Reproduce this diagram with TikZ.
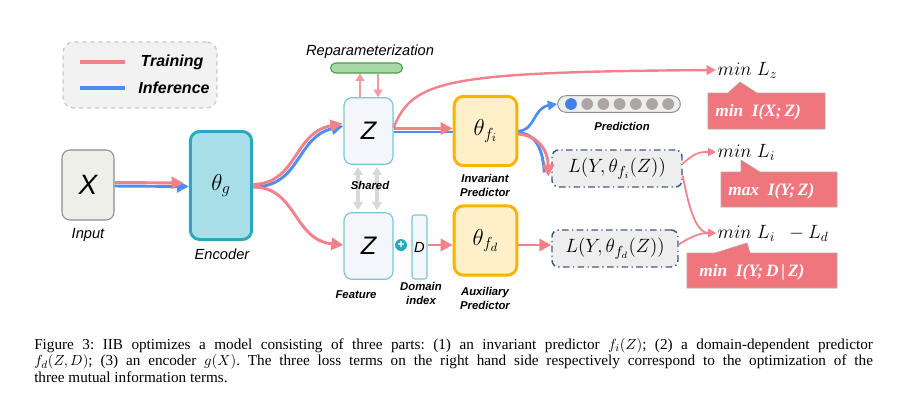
\documentclass[tikz,border=0pt]{standalone}
\usepackage{fontspec}
\setmainfont{Liberation Serif}
\setsansfont{Liberation Sans}
\usetikzlibrary{arrows.meta}
\definecolor{redc}{HTML}{F4808A}
\definecolor{bluec}{HTML}{4D8EF0}
\definecolor{legfill}{HTML}{F2F2F2}
\definecolor{legdraw}{HTML}{C8C8C8}
\definecolor{inpfill}{HTML}{EFEFE9}
\definecolor{inpdraw}{HTML}{8C8C8C}
\definecolor{encfill}{HTML}{A8DEE6}
\definecolor{encdraw}{HTML}{2BA9BC}
\definecolor{zfill}{HTML}{F4F6FB}
\definecolor{zdraw}{HTML}{79C6D6}
\definecolor{prfill}{HTML}{FFF0C9}
\definecolor{prdraw}{HTML}{F8B400}
\definecolor{grfill}{HTML}{A8D8A8}
\definecolor{grdraw}{HTML}{47A047}
\definecolor{lfill}{HTML}{EEEEEE}
\definecolor{ldraw}{HTML}{3B5A8E}
\definecolor{rbox}{HTML}{F0767E}
\definecolor{rboxdraw}{HTML}{B8A4A6}
\definecolor{graya}{HTML}{D8D8D8}
\definecolor{dotgray}{HTML}{ABA6A6}
\definecolor{dotblue}{HTML}{3F7FEF}
\definecolor{pinkthin}{HTML}{F49AA2}
\tikzset{
  rl/.style={draw=redc, line width=2.2pt},
  bl/.style={draw=bluec, line width=2.2pt},
  rthin/.style={draw=redc, line width=1.3pt},
  bigtip/.style={-{Triangle[length=9pt,width=9pt]}},
  midtip/.style={-{Triangle[length=7pt,width=7pt]}},
  smalltip/.style={-{Triangle[length=6pt,width=6pt]}},
  lab/.style={font=\sffamily\itshape\fontsize{11}{13}\selectfont, inner sep=0pt},
  blab/.style={font=\sffamily\bfseries\itshape\fontsize{8.5}{10.5}\selectfont, align=center, inner sep=0pt},
  zbox/.style={draw=zdraw, fill=zfill, rounded corners=6pt, line width=0.9pt,
    minimum width=36.75pt, minimum height=50pt, font=\sffamily\itshape\fontsize{19}{22}\selectfont},
  predbox/.style={draw=prdraw, fill=prfill, rounded corners=7pt, line width=2.2pt,
    minimum width=47pt, minimum height=52pt, font=\fontsize{18}{20}\selectfont},
  lbox/.style={draw=ldraw, fill=lfill, rounded corners=5pt, line width=1.1pt,
    dash pattern=on 5pt off 2.5pt on 1pt off 2.5pt, minimum height=27.75pt, inner sep=2pt,
    font=\fontsize{15}{17}\selectfont},
  mintext/.style={font=\fontsize{14.5}{16}\selectfont, inner sep=1pt, anchor=west},
  rtext/.style={font=\bfseries\itshape\fontsize{13}{15}\selectfont, text=white, inner sep=0pt, anchor=west},
  rshape/.style={fill=rbox, draw=rboxdraw, line width=0.5pt},
  grayarr/.style={draw=graya, line width=2.4pt, {Triangle[length=6pt,width=7pt]}-{Triangle[length=6pt,width=7pt]}},
  reparr/.style={draw=pinkthin, line width=1.8pt, -{Triangle[length=5.5pt,width=6.5pt]}},
}
\begin{document}
\begin{tikzpicture}[x=0.75pt,y=-0.75pt]
\useasboundingbox (0,0) rectangle (907,401);

% legend
\node[draw=legdraw, fill=legfill, dashed, line width=0.9pt, rounded corners=8pt,
  minimum width=115.5pt, minimum height=49.5pt] (leg) at (140,75) {};
\coordinate (lr1) at (80,62); \coordinate (lr2) at (125,62);
\coordinate (lb1) at (80,88); \coordinate (lb2) at (125,88);
\draw[draw=redc, line width=3pt] (lr1) -- (lr2);
\draw[draw=bluec, line width=3pt] (lb1) -- (lb2);
\node[font=\sffamily\bfseries\itshape\fontsize{12}{14}\selectfont, inner sep=0pt] (ltr) at (172,62) {Training};
\node[font=\sffamily\bfseries\itshape\fontsize{12}{14}\selectfont, inner sep=0pt] (linf) at (174,88) {Inference};

% main nodes
\node[draw=inpdraw, fill=inpfill, rounded corners=6pt, line width=0.8pt,
  minimum width=39pt, minimum height=52.5pt, font=\sffamily\itshape\fontsize{21}{24}\selectfont] (x) at (88,185) {X};
\node[lab] (xl) at (88,235) {Input};
\node[draw=encdraw, fill=encfill, rounded corners=7pt, line width=2.2pt,
  minimum width=46pt, minimum height=81pt, font=\fontsize{18}{20}\selectfont] (enc) at (221,185.5) {$\theta_g$};
\node[lab] (encl) at (222,254) {Encoder};

\node[zbox] (zs) at (368.5,131) {Z};
\node[zbox] (zf) at (368.5,246) {Z};

\node[draw=grdraw, fill=grfill, rounded corners=3.75pt, line width=0.8pt,
  minimum width=54pt, minimum height=7.5pt, inner sep=0pt] (rep) at (366.5,68) {};
\node[lab] (repl) at (370,52) {Reparameterization};

\node[circle, fill=encdraw, text=white, inner sep=0pt, minimum size=9pt,
  font=\sffamily\bfseries\fontsize{9}{9}\selectfont] (plus) at (401,245) {+};
\node[draw=zdraw, fill=zfill, rounded corners=2pt, line width=0.8pt,
  minimum width=11.25pt, minimum height=48pt, inner sep=0pt,
  font=\sffamily\itshape\fontsize{11}{12}\selectfont] (dbox) at (419.5,247) {D};
\node[blab] (dl) at (421,293) {Domain\\index};

\node[predbox] (fi) at (485.5,131) {$\theta_{f_i}$};
\node[predbox] (fd) at (485.5,240.5) {$\theta_{f_d}$};
\node[blab] (fil) at (485,185) {Invariant\\Predictor};
\node[blab] (fdl) at (485,298) {Auxiliary\\Predictor};

% prediction bar
\node[draw=inpdraw, fill=lfill, rounded corners=6.3pt, line width=0.7pt,
  minimum width=92pt, minimum height=12.5pt, inner sep=0pt] (pred) at (619,104) {};
\fill[dotblue] (571,104) circle (4.4pt);
\foreach \i in {1,...,6} { \fill[dotgray] ({571+16.2*\i},104) circle (4.4pt); }
\node[blab] (predl) at (622,126) {Prediction};

% loss boxes
\node[lbox, minimum width=97.5pt] (lfi) at (617,168.5) {$L(Y,\theta_{f_i}(Z))$};
\node[lbox, minimum width=94.5pt] (lfd) at (615,248.5) {$L(Y,\theta_{f_d}(Z))$};

% objective texts
\node[mintext] (mlz) at (716,70) {$min\;L_z$};
\node[mintext] (mli) at (716,152) {$min\;L_i$};
\node[mintext] (mlid) at (716,233) {$min\;L_i\ \ -L_d$};

% red callout boxes
\path[rshape] (708,93) -- (728,93) -- (740,82) -- (757,93) -- (825,93) -- (825,129) -- (708,129) -- cycle;
\path[rshape] (721,172) -- (741,172) -- (741,160) -- (760,172) -- (837,172) -- (837,207) -- (721,207) -- cycle;
\path[rshape] (687,253) -- (715,253) -- (747,243) -- (750,253) -- (837,253) -- (837,288) -- (687,288) -- cycle;
\node[rtext] (r1) at (715,112) {min\ \ I(X{;}\,Z)};
\node[rtext] (r2) at (728,191) {max\ \ I(Y{;}\,Z)};
\node[rtext] (r3) at (699,272) {min\ \ I(Y{;}\,D\,|\,Z)};

% ---- connectors ----
% X -> encoder
\draw[bl, bigtip] ([shift={(0,1)}]x.east) -- ([shift={(0,1)}]enc.west);
\draw[rl, bigtip, shorten >=4pt] ([shift={(0,-2.5)}]x.east) -- ([shift={(0,-2.5)}]enc.west);

% encoder -> Z shared
\draw[bl, bigtip] ([shift={(1,1.5)}]enc.east) .. controls (301,186) and (296,137) .. ([shift={(0,-5)}]zs.west);
\draw[rl, bigtip] ([shift={(0,-1)}]enc.east) .. controls (298,183) and (293,133) .. ([shift={(-1,-7.5)}]zs.west);
% encoder -> Z feature
\draw[rl, bigtip] ([shift={(0,1.5)}]enc.east) .. controls (297,187) and (293,240) .. ([shift={(0,-1)}]zf.west);

% Z shared -> theta fi
\draw[bl] ([shift={(0,1)}]zs.east) -- ([shift={(0,1)}]fi.west);
\draw[rl, bigtip] ([shift={(0,-2.5)}]zs.east) -- ([shift={(0,-2.5)}]fi.west);

% Z shared -> min Lz
\draw[draw=redc, line width=1.8pt, midtip] ([shift={(0,-3.5)}]zs.east) .. controls (413,80) and (445,72) .. (mlz.west);

% reparameterization arrows
\draw[reparr] ([shift={(-8.5,0)}]zs.north) -- ([shift={(-6.5,0)}]rep.south);
\draw[reparr] ([shift={(11.5,0)}]rep.south) -- ([shift={(9.5,0)}]zs.north);

% shared gray arrows
\draw[grayarr] ([shift={(-10.5,2)}]zs.south) -- ([shift={(-10.5,-2)}]zf.north);
\draw[grayarr] ([shift={(8.5,2)}]zs.south) -- ([shift={(8.5,-2)}]zf.north);
\node[blab] (zsl) at (370,185) {Shared};
\node[blab] (zfl) at (356,295) {Feature};

% D -> theta fd
\draw[rl, bigtip] ([shift={(0,-2)}]dbox.east) -- ([shift={(0,4.5)}]fd.west);
% theta fd -> L fd
\draw[rl, bigtip] ([shift={(0,4.5)}]fd.east) -- ([shift={(0,-3.5)}]lfd.west);

% theta fi -> prediction (blue)
\draw[bl, line width=2pt, midtip] ([shift={(0,0)}]fi.east) .. controls (535,131) and (533,108) .. (pred.west);
% theta fi -> L fi
\draw[bl] ([shift={(0,2)}]fi.east) .. controls (536,133) and (543,150) .. ([shift={(-7,4)}]lfi.west);
\draw[rl, bigtip] ([shift={(0,3)}]fi.east) .. controls (540,136) and (548,152) .. ([shift={(-3,8)}]lfi.west);

% L boxes -> objectives
\draw[rthin, smalltip] ([shift={(0,-5)}]lfi.east) .. controls (696,152) and (700,152) .. (mli.west);
\draw[rthin, smalltip] ([shift={(0,7)}]lfi.east) .. controls (690,215) and (698,233) .. (mlid.west);
\draw[rthin, smalltip] ([shift={(0,-4)}]lfd.east) .. controls (692,236) and (700,233) .. (mlid.west);

% caption
\node[anchor=north west, inner sep=0pt, align=left,
  font=\fontsize{11.4}{12.4}\selectfont\frenchspacing] (cap) at (34,338)
{\makebox[629pt][s]{Figure 3: IIB optimizes a model consisting of three parts: (1) an invariant predictor $f_i(Z)${;} (2) a domain-dependent predictor}\\
\makebox[629pt][s]{$f_d(Z,D)${;} (3) an encoder $g(X)$. The three loss terms on the right hand side respectively correspond to the optimization of the}\\
three mutual information terms.};
\end{tikzpicture}
\end{document}
